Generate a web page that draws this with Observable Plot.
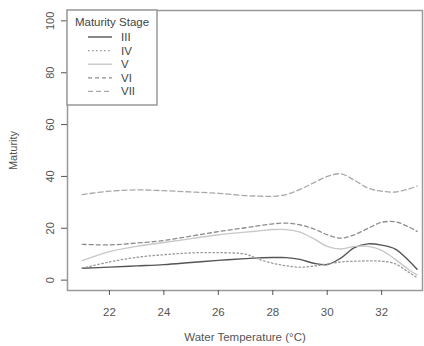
<!DOCTYPE html>
<html>
<head>
<meta charset="utf-8">
<script src="https://cdn.jsdelivr.net/npm/d3@7"></script>
<script src="https://cdn.jsdelivr.net/npm/@observablehq/plot@0.6"></script>
<style>
  html, body { margin: 0; padding: 0; background: #fff; }
  #wrap { position: relative; width: 424px; height: 346px; }
  #legend { position: absolute; left: 0; top: 0; }
</style>
</head>
<body>
<div id="wrap"></div>
<script>
// Water temperature (°C) sample points
const temps = [21, 22, 23, 24, 25, 26, 27, 27.5, 28, 28.5, 29, 29.5, 30, 30.5, 31, 31.5, 32, 32.5, 33, 33.3];
// Maturity per stage
const stageIII = [4.6, 5.0, 5.5, 6.0, 6.8, 7.6, 8.3, 8.6, 8.7, 8.7, 8.0, 6.5, 6.0, 8.5, 12.5, 14.0, 13.5, 12.0, 7.5, 4.2];
const stageIV  = [4.6, 7.0, 8.8, 9.8, 10.5, 10.6, 10.0, 8.0, 6.5, 5.5, 5.0, 5.4, 6.2, 7.0, 7.3, 7.4, 7.3, 6.3, 3.0, 1.0];
const stageV   = [7.5, 11.0, 13.0, 14.5, 16.0, 17.5, 18.5, 19.0, 19.5, 19.5, 18.5, 16.0, 13.0, 12.0, 13.0, 13.0, 11.5, 8.0, 4.0, 2.0];
const stageVI  = [13.8, 13.6, 14.3, 15.3, 17.0, 18.7, 20.2, 21.0, 21.7, 22.0, 21.3, 19.8, 17.5, 16.2, 17.5, 20.0, 22.3, 22.5, 20.5, 18.8];
const stageVII = [33.0, 34.3, 34.8, 34.5, 34.0, 33.5, 32.6, 32.4, 32.3, 33.0, 35.0, 37.5, 40.0, 41.0, 38.5, 35.5, 34.3, 34.0, 35.2, 36.3];

const stageNames = ["III", "IV", "V", "VI", "VII"];
const stageValues = [stageIII, stageIV, stageV, stageVI, stageVII];
const xTicks = [22, 24, 26, 28, 30, 32];
const yTicks = [0, 20, 40, 60, 80, 100];

const styles = {
  III: {stroke: "#555", dash: null, width: 1.4},
  IV:  {stroke: "#999", dash: "1.5,2.5", width: 1.3},
  V:   {stroke: "#c8c8c8", dash: null, width: 1.4},
  VI:  {stroke: "#8c8c8c", dash: "4,3", width: 1.3},
  VII: {stroke: "#a8a8a8", dash: "5,3", width: 1.3}
};

const rows = [];
stageNames.forEach((s, i) => temps.forEach((t, j) => rows.push({stage: s, temp: t, value: stageValues[i][j]})));

const lineMarks = stageNames.map(s => Plot.line(rows.filter(d => d.stage === s), {
  x: "temp", y: "value", curve: "catmull-rom",
  stroke: styles[s].stroke, strokeWidth: styles[s].width,
  strokeDasharray: styles[s].dash
}));

const chart = Plot.plot({
  width: 424, height: 346,
  marginLeft: 67, marginTop: 10, marginRight: 2, marginBottom: 56,
  style: {fontFamily: "'Liberation Sans', Arial, sans-serif", fontSize: "11px", color: "#555", background: "#fff"},
  x: {domain: [20.46, 33.5]},
  y: {domain: [-4, 104]},
  marks: [
    Plot.frame({stroke: "#999", strokeWidth: 1.5}),
    Plot.axisX({ticks: xTicks, tickSize: 5, tickPadding: 12, label: "Water Temperature (°C)", labelAnchor: "center", labelArrow: "none", labelOffset: 50, fontSize: 11.5}),
    Plot.axisY({ticks: yTicks, tickSize: 6, tickPadding: 8, tickRotate: -90, label: "Maturity", labelAnchor: "center", labelArrow: "none", labelOffset: 58, fontSize: 11}),
    ...lineMarks
  ]
});
document.getElementById("wrap").appendChild(chart);

// Legend box in the top-left corner of the plot area
const lg = d3.select("#wrap").append("svg").attr("id", "legend")
  .attr("width", 424).attr("height", 346)
  .style("font-family", "'Liberation Sans', Arial, sans-serif").style("font-size", "11.5px");
const lx = 67, ly = 10, lw = 90, lh = 95;
lg.append("rect").attr("x", lx).attr("y", ly).attr("width", lw).attr("height", lh)
  .attr("fill", "#fff").attr("stroke", "#999").attr("stroke-width", 1.5);
lg.append("text").attr("x", lx + lw / 2).attr("y", ly + 16).attr("text-anchor", "middle").attr("fill", "#444").text("Maturity Stage");
stageNames.forEach((s, i) => {
  const yy = ly + 27 + i * 13.6;
  lg.append("line").attr("x1", lx + 21).attr("x2", lx + 45).attr("y1", yy).attr("y2", yy)
    .attr("stroke", styles[s].stroke).attr("stroke-width", styles[s].width)
    .attr("stroke-dasharray", styles[s].dash);
  lg.append("text").attr("x", lx + 54).attr("y", yy + 4).attr("fill", "#444").text(s);
});
</script>
</body>
</html>
